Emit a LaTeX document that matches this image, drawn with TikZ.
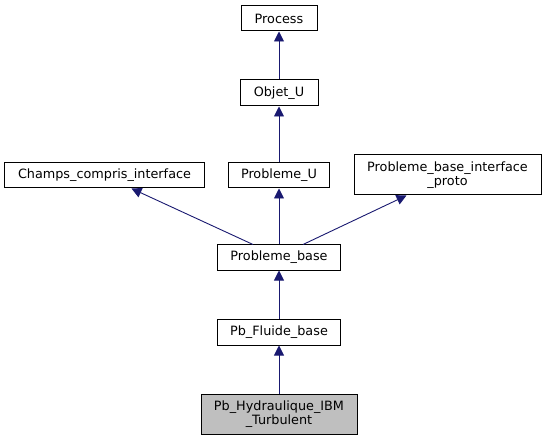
\documentclass[tikz,border=0pt]{standalone}
\usepackage{fontspec}
\setmainfont{DejaVu Sans}
\usetikzlibrary{arrows.meta}
\definecolor{edgec}{HTML}{191970}
\definecolor{hl}{HTML}{BFBFBF}
\tikzset{
  box/.style={draw=black, line width=1bp, fill=white, inner sep=0pt, align=center, font=\fontsize{12.8bp}{14.5bp}\selectfont},
  inh/.style={draw=edgec, line width=0.9bp, -{Triangle[length=10bp,width=10bp,fill=edgec]}}
}
\begin{document}
\begin{tikzpicture}[x=1bp,y=-1bp]
\useasboundingbox (0,0) rectangle (546,440);
\node[box, minimum width=76bp, minimum height=25bp] (process) at (279,18.5) {Process};
\node[box, minimum width=78bp, minimum height=26bp] (objet) at (279,93) {Objet\_U};
\node[box, minimum width=199bp, minimum height=25bp] (champs) at (104.5,175.5) {Champs\_compris\_interface};
\node[box, minimum width=101bp, minimum height=25bp] (pbu) at (279,175.5) {Probleme\_U};
\node[box, minimum width=187bp, minimum height=40bp] (proto) at (447.5,175) {Probleme\_base\_interface\\\_proto};
\node[box, minimum width=123bp, minimum height=25bp] (pbase) at (279,257.5) {Probleme\_base};
\node[box, minimum width=123bp, minimum height=26bp] (fluide) at (279,332) {Pb\_Fluide\_base};
\node[box, fill=hl, minimum width=156bp, minimum height=40bp] (ibm) at (279,414) {Pb\_Hydraulique\_IBM\\\_Turbulent};
\coordinate (pbl) at ([xshift=-26bp]pbase.north);
\coordinate (pbr) at ([xshift=24bp]pbase.north);
\coordinate (chb) at ([xshift=127bp]champs.south west);
\coordinate (prb) at ([xshift=53bp]proto.south west);
\draw[inh] (objet) -- (process);
\draw[inh] (pbu) -- (objet);
\draw[inh] (pbase) -- (pbu);
\draw[inh] (pbl) -- (chb);
\draw[inh] (pbr) -- (prb);
\draw[inh] (fluide) -- (pbase);
\draw[inh] (ibm) -- (fluide);
\end{tikzpicture}
\end{document}
